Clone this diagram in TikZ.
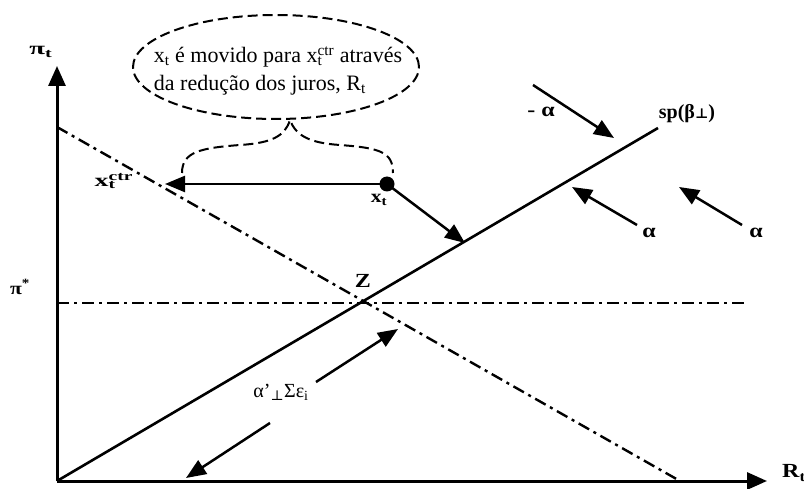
\documentclass[tikz,border=0pt]{standalone}
\usepackage{fontspec}
\setmainfont{Liberation Serif}
\newfontfamily\dvs{DejaVu Serif}
\usetikzlibrary{arrows.meta,shapes.geometric}
\tikzset{
 axis/.style={line width=3pt,-{Triangle[length=20pt,width=17pt]}},
 arr/.style={line width=2.5pt,-{Triangle[length=20pt,width=16pt]}},
 dd/.style={line width=2.4pt,dash pattern=on 12pt off 5pt on 3pt off 5pt},
 dsh/.style={line width=2pt,dash pattern=on 10pt off 5pt},
 lbl/.style={font=\fontsize{18}{20}\selectfont\bfseries,inner sep=0pt},
 biglbl/.style={font=\fontsize{20}{22}\selectfont\bfseries,inner sep=0pt},
 txt/.style={font=\fontsize{22}{28}\selectfont,inner sep=0pt,align=left},
}
\begin{document}
\begin{tikzpicture}[x=1pt,y=-1pt]
\useasboundingbox (0,0) rectangle (804,489);
% axes
\coordinate (O) at (57,481);
\coordinate (Ytop) at (57,66);
\coordinate (Xend) at (767,481);
\draw[axis] (O) -- (Ytop);
\draw[axis] (O) -- (Xend);
\node[lbl] (pit) at (41,52) {\scalebox{1.6}[1]{π\textsubscript{t}}};
\node[lbl] (pistar) at (20,287) {\scalebox{1.2}[1]{π\textsuperscript{*}}};
\node[biglbl,anchor=west] (Rt) at (782,473) {\scalebox{1.2}[1]{R\textsubscript{t}}};
% lines
\coordinate (spend) at (658,128);
\draw[line width=2.6pt] (O) -- (spend);
\node[biglbl] (sp) at (687,114) {sp(β{\dvs\bfseries\fontsize{14}{15}\selectfont ⊥})};
\coordinate (d1) at (57,127);
\coordinate (d2) at (680,481);
\draw[dd] (d1) -- (d2);
\coordinate (h1) at (57,303);
\coordinate (h2) at (745,303);
\draw[dd] (h1) -- (h2);
\node[biglbl] (Z) at (363,281) {\scalebox{1.2}[1]{Z}};
% x_t
\node[circle,fill=black,inner sep=0pt,minimum size=15pt] (xt) at (387,184) {};
\node[lbl] (xtl) at (379,200) {\scalebox{1.2}[1]{x\textsubscript{t}}};
\coordinate (ctrtip) at (165,184);
\node[lbl] (xctr) at (114,181) {\scalebox{1.55}[1]{x\rlap{\textsubscript{t}}\textsuperscript{ctr}}};
\draw[arr] (xt.center) -- (ctrtip);
\coordinate (sptip) at (465,243);
\draw[arr] (xt.center) -- (sptip);
% alpha arrows
\coordinate (ma1) at (533,85);
\coordinate (ma2) at (614,138);
\draw[arr] (ma1) -- (ma2);
\node[biglbl] (malpha) at (541,112) {\scalebox{1.2}[1]{- α}};
\coordinate (a1s) at (637,225);
\coordinate (a1e) at (572,187);
\draw[arr] (a1s) -- (a1e);
\node[biglbl] (a1) at (649,233) {\scalebox{1.2}[1]{α}};
\coordinate (a2s) at (742,225);
\coordinate (a2e) at (679,187);
\draw[arr] (a2s) -- (a2e);
\node[biglbl] (a2) at (756,233) {\scalebox{1.2}[1]{α}};
% epsilon arrows
\coordinate (e1s) at (316,382);
\coordinate (e1e) at (398,329);
\draw[arr] (e1s) -- (e1e);
\coordinate (e2s) at (270,423);
\coordinate (e2e) at (186,478);
\draw[arr] (e2s) -- (e2e);
\node[inner sep=0pt,font=\fontsize{20}{22}\selectfont] (eps) at (281,392) {α’\textsubscript{\dvs ⊥}Σε\textsubscript{i}};
% ellipse note
\node[draw,dsh,ellipse,minimum width=286pt,minimum height=104pt,inner sep=0pt] (note) at (276,67) {};
\node[txt] (notetext) at (278,71) {x\textsubscript{t} é movido para x\rlap{\textsubscript{t}}\textsuperscript{ctr} através\\da redução dos juros, R\textsubscript{t}};
\coordinate (peak) at (290,120);
\coordinate (bl) at (182,173);
\coordinate (br) at (393,173);
\draw[dsh] (bl) .. controls (182,152) and (200,148) .. (240,145) .. controls (272,143) and (285,136) .. (peak) .. controls (296,136) and (310,143) .. (340,145) .. controls (380,148) and (393,152) .. (br);
\end{tikzpicture}
\end{document}
